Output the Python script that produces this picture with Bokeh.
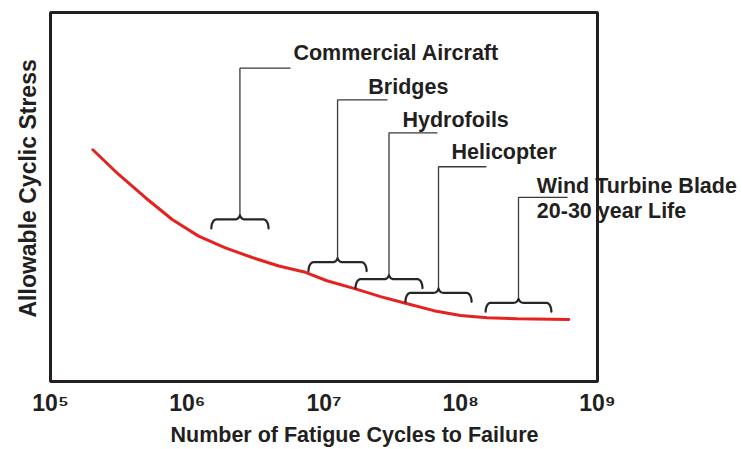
import numpy as np
from bokeh.plotting import figure
from bokeh.models import Label, FixedTicker, Title
from bokeh.embed import file_html
from bokeh.resources import INLINE

# ---- data ----
cycles = [2.04e5, 3.15e5, 4.95e5, 7.76e5, 1.21e6, 1.90e6, 2.99e6, 4.67e6, 7.32e6,
          1.05e7, 1.70e7, 2.59e7, 3.94e7, 6.35e7, 9.96e7, 1.56e8, 2.59e8, 6.17e8]
stress = [62.8, 56.1, 49.8, 43.9, 39.4, 36.2, 33.6, 31.3, 29.6,
          27.3, 25.1, 23.0, 21.2, 19.2, 17.9, 17.3, 17.0, 16.8]

apps = ["Commercial Aircraft", "Bridges", "Hydrofoils", "Helicopter", "Wind Turbine Blade"]
app_line2 = ["", "", "", "", "20-30 year Life"]
life_lo = [1.5e6, 7.7e6, 1.7e7, 3.94e7, 1.52e8]
life_hi = [3.93e6, 2.05e7, 5.25e7, 1.2e8, 4.6e8]
brace_stress = [41.5, 29.9, 25.3, 21.6, 18.9]
leader_top = [84.9, 76.3, 67.4, 58.2, 49.9]
leader_end = [5.69e6, 2.91e7, 6.76e7, 1.54e8, 6.04e8]
label_x = [5.98e6, 2.11e7, 3.75e7, 8.55e7, 3.60e8]
label_y = [88.9, 79.8, 70.9, 62.3, 53.1]
label_y2 = [None, None, None, None, 46.1]

decades = [1e5, 1e6, 1e7, 1e8, 1e9]
tick_labels = ["10\u2075", "10\u2076", "10\u2077", "10\u2078", "10\u2079"]
stress_lo, stress_hi = 0, 100
x_title = "Number of Fatigue Cycles to Failure"
y_title = "Allowable Cyclic Stress"

FONT = "Liberation Sans"
TXT = "#231f20"

# screen scale of the boxed chart area: 136.75 px per decade, 3.71 px per stress unit
PXD = 136.75
PXS = 3.71
x_start = 10 ** (np.log10(decades[0]) - 2 / PXD)
x_end = 10 ** (np.log10(decades[-1]) + 145 / PXD)
y_start = stress_lo - 2 / PXS
y_end = stress_hi + 2 / PXS

p = figure(width=742, height=449, x_axis_type="log", x_range=(x_start, x_end),
           y_range=(y_start, y_end), output_backend="svg", toolbar_location=None,
           min_border_left=48, min_border_right=0, min_border_top=10, min_border_bottom=64)
p.grid.visible = False
p.background_fill_color = "white"
p.outline_line_color = None

# x axis
p.xaxis.ticker = FixedTicker(ticks=decades)
p.xaxis.major_label_overrides = {d: b for d, b in zip(decades, tick_labels)}
p.xaxis.major_label_text_font = FONT
p.xaxis.major_label_text_font_style = "bold"
p.xaxis.major_label_text_font_size = "23px"
p.xaxis.major_label_text_color = TXT
p.xaxis.major_tick_out = 0
p.xaxis.major_tick_in = 0
p.xaxis.minor_tick_out = 0
p.xaxis.major_label_standoff = 6
p.xaxis.major_tick_line_color = None
p.xaxis.minor_tick_line_color = None
p.xaxis.axis_line_color = None

# x axis title, placed under the axis
p.add_layout(Title(text=x_title, align="left", offset=122, standoff=5,
                   text_font=FONT, text_font_style="bold", text_font_size="21.5px",
                   text_color=TXT), "below")

# y axis (no ticks); its title is placed as a side title
p.yaxis.visible = False
p.add_layout(Title(text=y_title, align="left", offset=66, standoff=16,
                   text_font=FONT, text_font_style="bold", text_font_size="23px",
                   text_color=TXT), "left")

# S-N curve
p.line(cycles, stress, line_color="#e42320", line_width=3, line_cap="round", line_join="round")

# braces (shape sizes in screen px converted to data units)
rx = 5 / PXD
h1 = 9 / PXS
h2 = 14 / PXS
t = np.linspace(0, np.pi / 2, 10)

bx, by, lx, ly = [], [], [], []
for lo, hi, yb, top, end in zip(life_lo, life_hi, brace_stress, leader_top, leader_end):
    xl, xr = np.log10(lo), np.log10(hi)
    xc = (xl + xr) / 2
    x1 = xl + rx - rx * np.cos(t); y1 = yb + h1 * np.sin(t)
    x2 = xc - rx + rx * np.sin(t); y2 = yb + h2 - (h2 - h1) * np.cos(t)
    left_x = np.concatenate([x1, x2]); left_y = np.concatenate([y1, y2])
    right_x = (2 * xc - left_x)[::-1]; right_y = left_y[::-1]
    xs = np.concatenate([left_x, right_x]); ys = np.concatenate([left_y, right_y])
    bx.append(list(10 ** xs)); by.append(list(ys))
    lx.append([10 ** xc, 10 ** xc, end]); ly.append([yb + h2, top, top])

p.multi_line(lx, ly, line_color="#3a3a3a", line_width=1.3)
p.multi_line(bx, by, line_color="#262626", line_width=2.2, line_cap="round")

# annotation labels
for name, x, y in zip(apps, label_x, label_y):
    p.add_layout(Label(x=x, y=y, text=name, text_font=FONT, text_font_style="bold",
                       text_font_size="21.5px", text_color=TXT, text_baseline="middle",
                       text_align="left"))
for name, x, y in zip(app_line2, label_x, label_y2):
    if name:
        p.add_layout(Label(x=x, y=y, text=name, text_font=FONT, text_font_style="bold",
                           text_font_size="21.5px", text_color=TXT, text_baseline="middle",
                           text_align="left"))

# chart box on the axis limits, drawn on top like in the reference
p.quad(left=[decades[0]], right=[decades[-1]], bottom=[stress_lo], top=[stress_hi],
       fill_color=None, line_color="#231f20", line_width=3, level="overlay")

open("out.html", "w").write(file_html(p, INLINE))
